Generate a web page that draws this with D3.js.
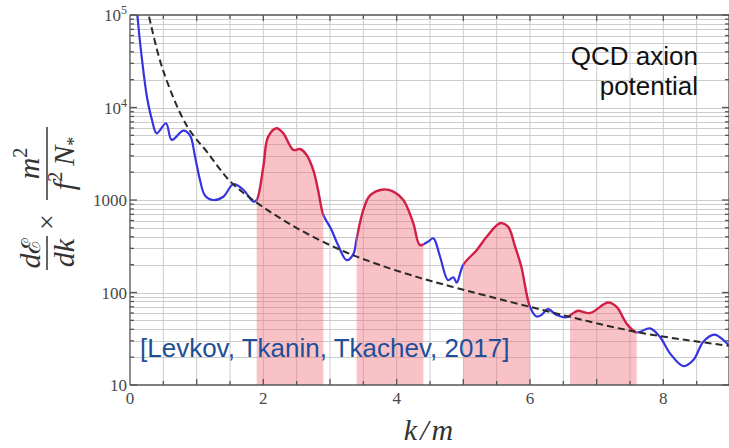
<!DOCTYPE html>
<html>
<head>
<meta charset="utf-8">
<script src="https://cdn.jsdelivr.net/npm/d3@7"></script>
<style>
  body { margin: 0; background: #fff; }
  svg { display: block; }
</style>
</head>
<body>
<svg id="chart" width="729" height="448"></svg>
<script>
// Energy spectrum dE/dk (in units of f^2 N_* / m^2) versus k/m
const spectrumK = [0.095, 0.11, 0.18, 0.255, 0.33, 0.40, 0.54, 0.625, 0.80, 0.90, 0.975, 1.05, 1.125,
  1.25, 1.40, 1.55, 1.70, 1.85, 1.90, 2.00, 2.07, 2.20, 2.30, 2.45, 2.55, 2.65, 2.75, 2.82, 2.90,
  3.02, 3.12, 3.25, 3.35, 3.40, 3.50, 3.60, 3.80, 3.95, 4.10, 4.25, 4.35, 4.47, 4.55, 4.65, 4.77,
  4.85, 4.90, 5.00, 5.20, 5.35, 5.55, 5.67, 5.77, 5.87, 6.00, 6.10, 6.17, 6.27, 6.40, 6.55, 6.65,
  6.72, 6.90, 7.17, 7.30, 7.45, 7.60, 7.80, 7.95, 8.10, 8.30, 8.45, 8.60, 8.77, 8.98, 9.05];
const spectrumE = [140000, 100000, 33000, 12900, 7330, 5250, 6760, 4470, 5630, 5000, 2960, 1640, 1120,
  1000, 1085, 1480, 1290, 960, 1000, 2290, 4780, 5960, 5250, 3480, 3560, 3070, 2100, 1290, 690,
  480, 326, 224, 260, 386, 780, 1120, 1300, 1230, 1000, 560, 325, 355, 385, 245, 136,
  146, 128, 200, 287, 400, 560, 515, 325, 190, 70, 55, 57, 66, 57, 54, 60,
  63.5, 60, 78, 70, 46, 37, 41, 33, 22, 16, 18.6, 29.4, 35, 27, 24];

// Power-law fit (dashed)
const fitK = [0.25, 0.28, 0.495, 0.855, 1.155, 1.5, 1.845, 2.445, 3.15, 3.75, 4.35, 4.8, 6.0, 7.6, 8.98, 9.1];
const fitE = [125000, 100000, 25400, 6300, 3310, 1600, 1000, 525, 290, 198, 144, 117, 70, 37.4, 26.5, 25.7];

// Parametric-resonance bands (shaded)
const bandStart = [1.9, 3.4, 5.0, 6.6];
const bandEnd   = [2.9, 4.4, 6.0, 7.6];

const xTickValues = [0, 2, 4, 6, 8];
const yTickValues = [10, 100, 1000, 1e4, 1e5];
const yTickLabels = ["10", "100", "1000", "10|4", "10|5"];

const plot = { left: 130, right: 730, top: 15, bottom: 385 };
const svg = d3.select("#chart");

const x = d3.scaleLinear().domain([0, 9]).range([plot.left, plot.right]);
const y = d3.scaleLog().domain([10, 1e5]).range([plot.bottom, plot.top]);

const spectrum = spectrumK.map((k, i) => [k, spectrumE[i]]);
const fit = fitK.map((k, i) => [k, fitE[i]]);
const bands = bandStart.map((s, i) => [s, bandEnd[i]]);
const gaps = [];
let prev = 0;
bands.forEach(([s, e]) => { gaps.push([prev, s]); prev = e; });
gaps.push([prev, 9]);

const defs = svg.append("defs");
defs.append("clipPath").attr("id", "plotClip")
  .append("rect").attr("x", plot.left).attr("y", plot.top)
  .attr("width", plot.right - plot.left).attr("height", plot.bottom - plot.top);
defs.append("clipPath").attr("id", "bandClip")
  .selectAll("rect").data(bands).join("rect")
  .attr("x", d => x(d[0])).attr("width", d => x(d[1]) - x(d[0]))
  .attr("y", plot.top).attr("height", plot.bottom - plot.top);
defs.append("clipPath").attr("id", "gapClip")
  .selectAll("rect").data(gaps).join("rect")
  .attr("x", d => x(d[0])).attr("width", d => x(d[1]) - x(d[0]))
  .attr("y", plot.top).attr("height", plot.bottom - plot.top);

// Grid
const grid = svg.append("g").attr("stroke", "#cccccc").attr("stroke-width", 1);
grid.selectAll("line.v").data(d3.range(0.5, 9.01, 0.5)).join("line")
  .attr("x1", d => x(d)).attr("x2", d => x(d))
  .attr("y1", plot.top).attr("y2", plot.bottom);
const logGrid = [];
[10, 100, 1000, 10000].forEach(dec => { for (let m = 1; m <= 9; m++) if (dec * m > 10) logGrid.push(dec * m); });
grid.selectAll("line.h").data(logGrid).join("line")
  .attr("x1", plot.left).attr("x2", plot.right)
  .attr("y1", d => Math.round(y(d)) + 0.5).attr("y2", d => Math.round(y(d)) + 0.5);

// Shaded bands under the curve
const area = d3.area().x(d => x(d[0])).y0(y(10)).y1(d => y(d[1]))
  .curve(d3.curveCatmullRom.alpha(0.5));
svg.append("g").attr("clip-path", "url(#plotClip)")
  .append("path").datum(spectrum).attr("d", area)
  .attr("clip-path", "url(#bandClip)")
  .attr("fill", "#ee6e7a").attr("fill-opacity", 0.42);

// Spectrum curve: blue outside bands, red inside
const line = d3.line().x(d => x(d[0])).y(d => y(d[1])).curve(d3.curveCatmullRom.alpha(0.5));
const curves = svg.append("g").attr("clip-path", "url(#plotClip)");
curves.append("path").datum(spectrum).attr("d", line)
  .attr("clip-path", "url(#gapClip)")
  .attr("fill", "none").attr("stroke", "#3434e0").attr("stroke-width", 2.2);
curves.append("path").datum(spectrum).attr("d", line)
  .attr("clip-path", "url(#bandClip)")
  .attr("fill", "none").attr("stroke", "#d11f48").attr("stroke-width", 2.4);

// Fit
curves.append("path").datum(fit).attr("d", line)
  .attr("fill", "none").attr("stroke", "#2a2a2a").attr("stroke-width", 2)
  .attr("stroke-dasharray", "7,4");

// Frame and ticks
const frame = svg.append("g").attr("stroke", "#555").attr("stroke-width", 1.3);
frame.append("line").attr("x1", plot.left).attr("x2", plot.left).attr("y1", plot.top).attr("y2", plot.bottom);
frame.append("line").attr("x1", plot.left).attr("x2", plot.right).attr("y1", plot.bottom).attr("y2", plot.bottom);
frame.append("line").attr("x1", plot.left).attr("x2", plot.right).attr("y1", plot.top).attr("y2", plot.top);
frame.append("line").attr("x1", plot.right - 1).attr("x2", plot.right - 1).attr("y1", plot.top).attr("y2", plot.bottom);

const xTicks = d3.range(0.5, 9.01, 0.5);
frame.selectAll("line.xb").data(xTicks).join("line")
  .attr("x1", d => x(d)).attr("x2", d => x(d))
  .attr("y1", plot.bottom).attr("y2", d => plot.bottom - (d % 1 === 0 ? 6 : 4));
frame.selectAll("line.xt").data(xTicks).join("line")
  .attr("x1", d => x(d)).attr("x2", d => x(d))
  .attr("y1", plot.top).attr("y2", d => plot.top + (d % 1 === 0 ? 6 : 4));
const yMinor = logGrid.filter(v => !yTickValues.includes(v));
frame.selectAll("line.yl").data(yTickValues).join("line")
  .attr("x1", plot.left).attr("x2", plot.left + 7).attr("y1", d => y(d)).attr("y2", d => y(d));
frame.selectAll("line.ylm").data(yMinor).join("line")
  .attr("x1", plot.left).attr("x2", plot.left + 4).attr("y1", d => y(d)).attr("y2", d => y(d));
frame.selectAll("line.yr").data(yTickValues).join("line")
  .attr("x1", plot.right - 1).attr("x2", plot.right - 8).attr("y1", d => y(d)).attr("y2", d => y(d));
frame.selectAll("line.yrm").data(yMinor).join("line")
  .attr("x1", plot.right - 1).attr("x2", plot.right - 5).attr("y1", d => y(d)).attr("y2", d => y(d));

// Tick labels
const serif = "'Liberation Serif', 'DejaVu Serif', serif";
const yLab = svg.append("g").attr("font-family", serif).attr("font-size", 17).attr("fill", "#484848")
  .attr("text-anchor", "end");
yTickValues.forEach((v, i) => {
  const parts = yTickLabels[i].split("|");
  const t = yLab.append("text").attr("x", plot.left - 3).attr("y", y(v) + 6);
  t.append("tspan").text(parts[0]);
  if (parts[1]) t.append("tspan").attr("font-size", 12).attr("dy", -7).text(parts[1]);
});
svg.append("g").attr("font-family", serif).attr("font-size", 17).attr("fill", "#484848")
  .attr("text-anchor", "middle")
  .selectAll("text").data(xTickValues).join("text")
  .attr("x", d => x(d)).attr("y", 404).text(d => d);

// Axis titles
svg.append("text").attr("x", 430).attr("y", 440).attr("text-anchor", "middle")
  .attr("font-family", serif).attr("font-style", "italic").attr("font-size", 30)
  .attr("letter-spacing", 3).attr("fill", "#333").text("k/m");

const yt = svg.append("g").attr("transform", "translate(47,198) rotate(-90)")
  .attr("font-family", serif).attr("font-size", 30).attr("fill", "#333");
yt.append("line").attr("x1", -72).attr("x2", -38).attr("y1", 0).attr("y2", 0)
  .attr("stroke", "#333").attr("stroke-width", 1.5);
yt.append("text").attr("x", -55).attr("y", -7).attr("text-anchor", "middle")
  .html('<tspan font-style="italic">d</tspan><tspan font-family="\'DejaVu Serif\', serif" font-size="26">ℰ</tspan>');
yt.append("text").attr("x", -55).attr("y", 27).attr("text-anchor", "middle")
  .attr("font-style", "italic").text("dk");
yt.append("text").attr("x", -24).attr("y", 9).attr("text-anchor", "middle")
  .attr("font-size", 28).text("×");
yt.append("line").attr("x1", -2).attr("x2", 71).attr("y1", 0).attr("y2", 0)
  .attr("stroke", "#333").attr("stroke-width", 1.5);
yt.append("text").attr("x", 34.5).attr("y", -8).attr("text-anchor", "middle")
  .html('<tspan font-style="italic">m</tspan><tspan font-size="20" dy="-12">2</tspan>');
yt.append("text").attr("x", 34.5).attr("y", 27).attr("text-anchor", "middle")
  .html('<tspan font-style="italic">f</tspan><tspan font-size="20" dy="-12">2</tspan>' +
        '<tspan dy="12" dx="6" font-style="italic">N</tspan><tspan font-size="18" dy="6">*</tspan>');

// Annotations
const sans = "'Liberation Sans', Arial, sans-serif";
const note = svg.append("g").attr("font-family", sans).attr("font-size", 26).attr("fill", "#111")
  .attr("text-anchor", "end");
note.append("text").attr("x", 698).attr("y", 65).text("QCD axion");
note.append("text").attr("x", 698).attr("y", 95).text("potential");
svg.append("text").attr("x", 140).attr("y", 357).attr("font-family", sans).attr("font-size", 26)
  .attr("fill", "#1f4e99").text("[Levkov, Tkanin, Tkachev, 2017]");
</script>
</body>
</html>
